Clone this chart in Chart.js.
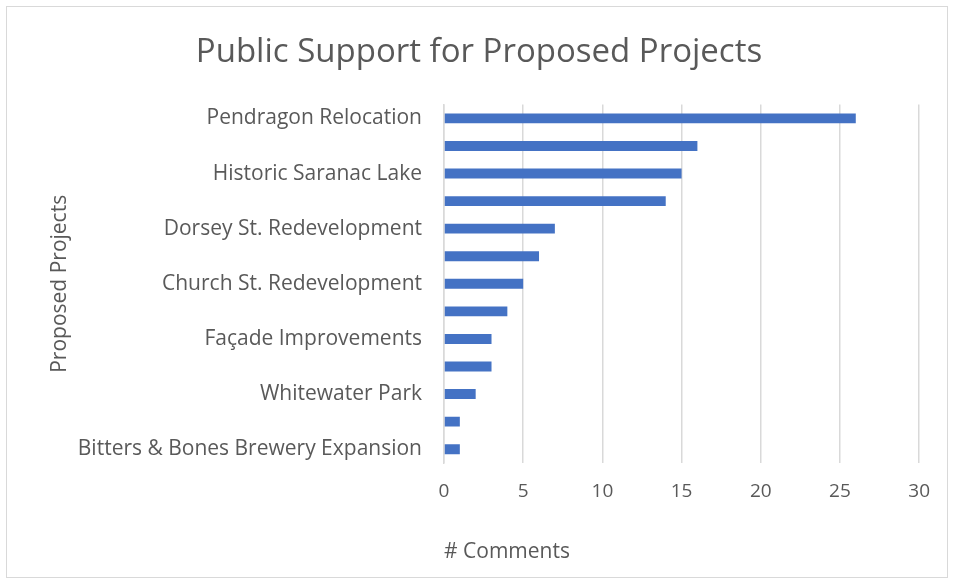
<!DOCTYPE html>
<html>
<head>
<meta charset="utf-8">
<script src="https://cdn.jsdelivr.net/npm/chart.js@4.4.1/dist/chart.umd.min.js"></script>
<style>
  html, body { margin: 0; padding: 0; background: #ffffff; }
  #frame {
    position: absolute; left: 6px; top: 6px; width: 942px; height: 572px;
    border: 1px solid #d9d9d9; box-sizing: border-box;
  }
  #wrap { position: absolute; left: 0; top: 0; width: 940px; height: 570px; }
</style>
</head>
<body>
<div id="frame"><div id="wrap"><canvas id="projectChart"></canvas></div></div>
<script>
// Categories, top to bottom. Excel only printed every other label, so the
// names of the in-between projects can't be read from the picture.
const projects = [
  'Pendragon Relocation', '',
  'Historic Saranac Lake', '',
  'Dorsey St. Redevelopment', '',
  'Church St. Redevelopment', '',
  'Façade Improvements', '',
  'Whitewater Park', '',
  'Bitters & Bones Brewery Expansion'
];
const comments = [26, 16, 15, 14, 7, 6, 5, 4, 3, 3, 2, 1, 1];
const xTicks = [0, 5, 10, 15, 20, 25, 30];

const ctx = document.getElementById('projectChart').getContext('2d');
const projectChart = new Chart(ctx, {
    type: 'bar',
    data: {
        labels: projects,
        datasets: [{
            label: '# Comments',
            data: comments,
            backgroundColor: '#4472c4',
            borderWidth: 0,
            barPercentage: 0.36,
            categoryPercentage: 1
        }]
    },
    options: {
        indexAxis: 'y',
        responsive: true,
        maintainAspectRatio: false,
        animation: false,
        layout: { padding: { left: 30, right: 26, top: 0, bottom: 12 } },
        plugins: {
            legend: { display: false },
            tooltip: { enabled: false },
            title: {
                display: true,
                text: 'Public Support for Proposed Projects',
                color: '#595959',
                font: { family: 'Open Sans', size: 33, weight: 'normal' },
                padding: { top: 26, bottom: 32 }
            }
        },
        scales: {
            x: {
                min: 0,
                max: 30,
                afterBuildTicks: (axis) => { axis.ticks = xTicks.map(v => ({ value: v })); },
                grid: { color: '#d9d9d9', lineWidth: 1.5, drawTicks: false },
                border: { display: false },
                ticks: { color: '#595959', font: { family: 'Open Sans', size: 19 }, padding: 17 },
                title: {
                    display: true,
                    text: '# Comments',
                    align: 'start',
                    color: '#595959',
                    font: { family: 'Open Sans', size: 21 },
                    padding: { top: 20, bottom: 0 }
                }
            },
            y: {
                afterFit: (scale) => { scale.width = 407; },
                grid: { display: false, drawTicks: false },
                border: { display: true, color: '#d9d9d9', width: 1.5 },
                ticks: {
                    color: '#595959',
                    font: { family: 'Open Sans', size: 21 },
                    padding: 22,
                    autoSkip: false
                },
                title: {
                    display: true,
                    text: 'Proposed Projects',
                    color: '#595959',
                    font: { family: 'Open Sans', size: 21 },
                    padding: { top: 10, bottom: 0 }
                }
            }
        }
    }
});
</script>
</body>
</html>
